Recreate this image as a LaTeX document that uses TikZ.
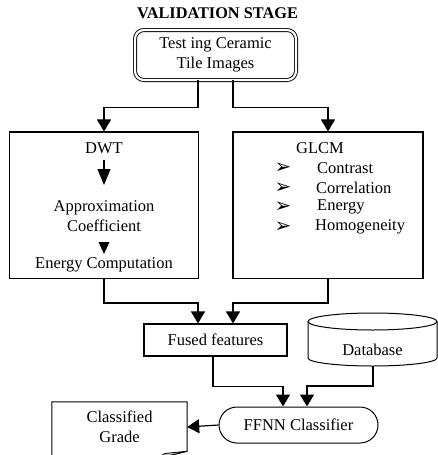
\documentclass[tikz,border=0pt]{standalone}
\usepackage{fontspec}
\setmainfont{Liberation Serif}
\newfontfamily\dejavu{DejaVu Sans}
\usetikzlibrary{arrows.meta,shapes.misc}
\begin{document}
\begin{tikzpicture}[x=1pt,y=-1pt,
  font=\fontsize{16.5}{19.5}\selectfont,
  box/.style={draw, line width=1.1pt, inner sep=0pt},
  arr/.style={-{Triangle[width=14pt,length=12pt]}, line width=1.2pt},
  txt/.style={inner sep=0pt, align=center},
  bul/.style={inner sep=0pt, font=\dejavu\fontsize{20}{20}\selectfont},
  item/.style={inner sep=0pt, anchor=west}]
\clip (0,0) rectangle (438,455);
\node[txt, font=\bfseries\fontsize{16.3}{19}\selectfont] (title) at (217.5,13) {VALIDATION STAGE};
\node[draw, double, double distance=2.2pt, line width=0.9pt, rounded corners=9pt,
  minimum width=161pt, minimum height=50pt, align=center, inner sep=0pt] (top) at (215.5,55)
  {Test ing Ceramic\\Tile Images};
% feature boxes
\node[box, minimum width=189pt, minimum height=146.5pt] (dwt) at (104,205.25) {};
\node[box, minimum width=190pt, minimum height=146.5pt] (glcm) at (328,205.25) {};
\draw[arr] ([xshift=-17.5pt]top.south) -- ++(0,27) -| (dwt.north);
\draw[arr] ([xshift=17.5pt]top.south) -- ++(0,27) -| (glcm.north);
% DWT contents
\node[txt] (dwtl) at (104,148) {DWT};
\node[txt] (approx) at (104,216) {Approximation\\Coefficient};
\node[txt] (energy) at (104,265) {Energy Computation};
\draw[-{Triangle[width=13pt,length=16pt]}, line width=1.2pt] (104,160) -- (104,185);
\fill (98.5,242) -- (109.5,242) -- (104,254) -- cycle;
% GLCM contents
\node[txt] (glcml) at (320,148) {GLCM};
\node[bul] (b1) at (283,168) {➢};
\node[bul] (b2) at (283,188) {➢};
\node[bul] (b3) at (283,207) {➢};
\node[bul] (b4) at (283,227) {➢};
\node[item] (i1) at (317,168) {Contrast};
\node[item] (i2) at (316,188) {Correlation};
\node[item] (i3) at (317,207) {Energy};
\node[item] (i4) at (315,227) {Homogeneity};
% fused
\node[box, minimum width=143pt, minimum height=32pt] (fused) at (215.5,340) {Fused features};
\draw[arr] (dwt.south) -- ++(0,24) -| ([xshift=-17.5pt]fused.north);
\draw[arr] (glcm.south) -- ++(0,24) -| ([xshift=17.5pt]fused.north);
% database
\draw[line width=1pt] (308,321.5) -- (308,358) arc[start angle=180, end angle=0, x radius=64.5, y radius=8] -- (437,321.5);
\draw[line width=1pt] (372.5,321.5) ellipse[x radius=64.5, y radius=8.5];
\node[txt] (db) at (372.5,350) {Database};
\coordinate (dbb) at (373,366);
% classifier
\node[draw, rounded rectangle, line width=1pt, minimum width=159pt, minimum height=36pt, inner sep=0pt] (ffnn) at (298.5,425) {FFNN Classifier};
\draw[arr] ([xshift=-2.5pt]fused.south) -- ++(0,30) -| ([xshift=-15.5pt]ffnn.north);
\draw[arr] (dbb) -- ++(0,20) -| ([xshift=8.5pt]ffnn.north);
% classified grade
\node[txt, minimum width=135pt, minimum height=50pt] (grade) at (119.5,427) {Classified\\Grade};
\draw[line width=1pt] ([yshift=-20pt]grade.south west) -- (grade.north west) -- (grade.north east) -- ([yshift=1pt]grade.south east) -- (155,459);
\filldraw[fill=gray!45, line width=0.8pt] ([yshift=1pt]grade.south east) -- (165,453.5) -- (155,459) -- cycle;
\draw[arr] (ffnn.west) -- (grade.east);
\end{tikzpicture}
\end{document}
